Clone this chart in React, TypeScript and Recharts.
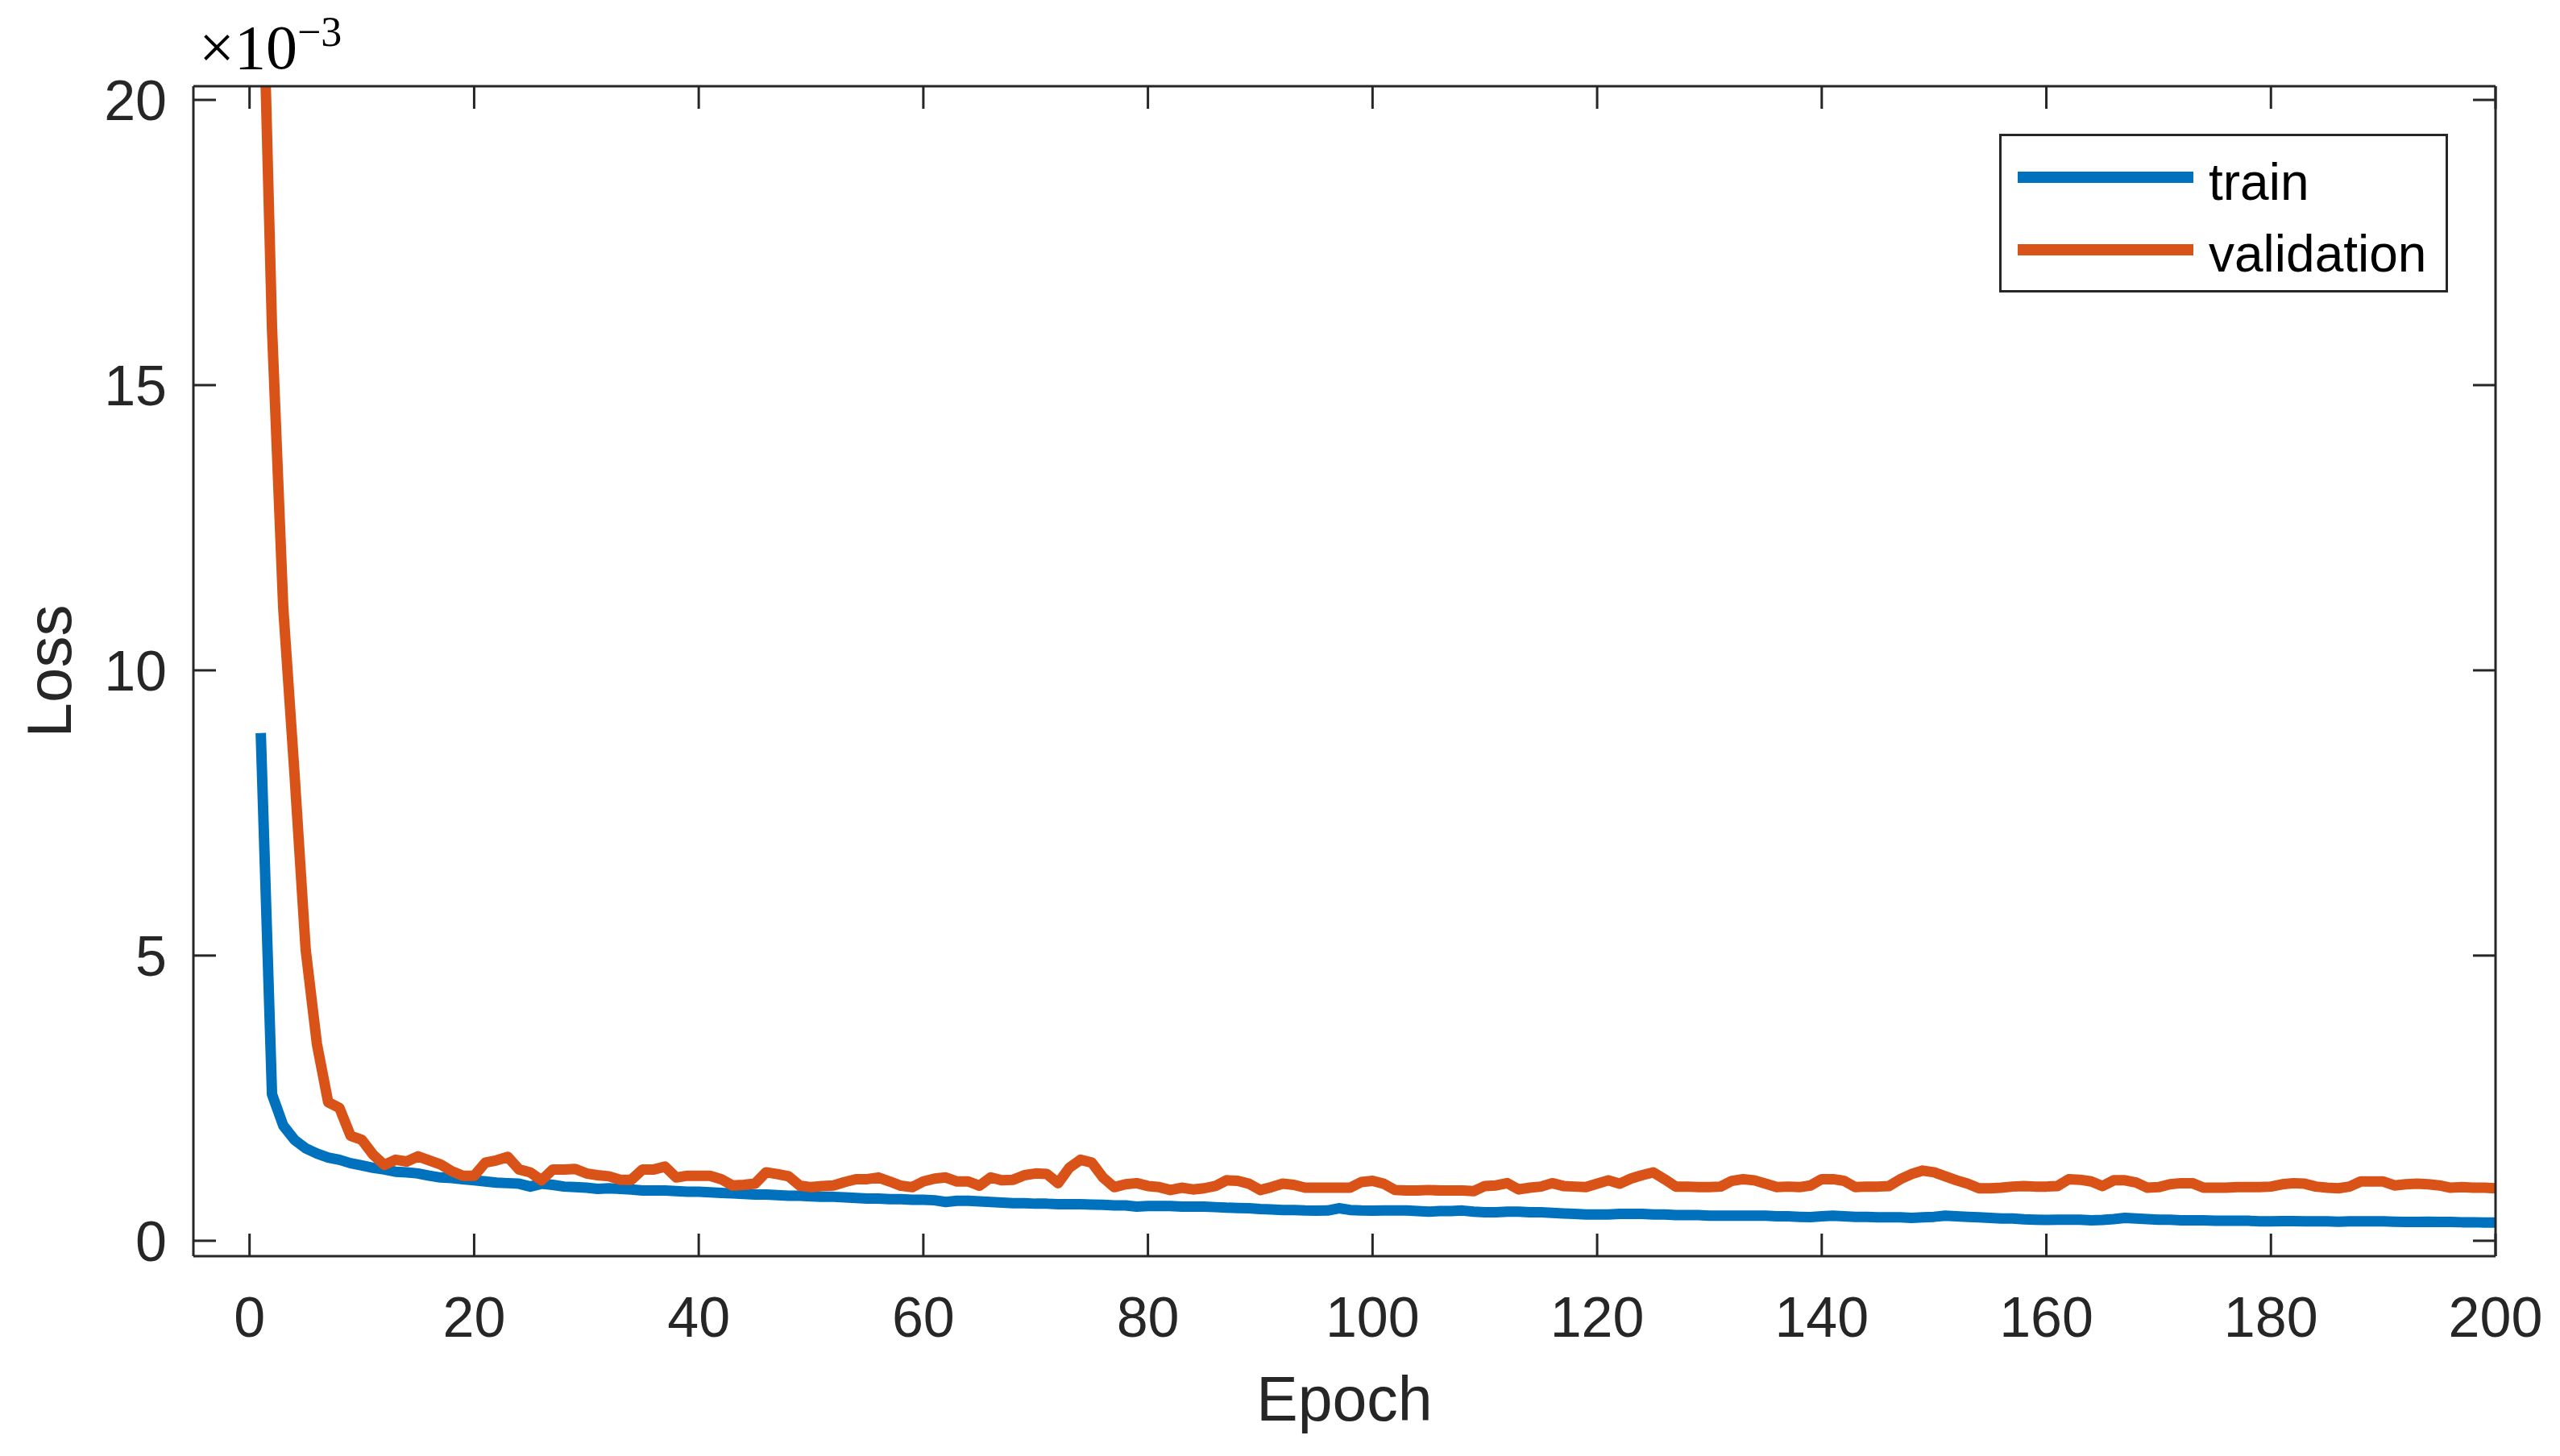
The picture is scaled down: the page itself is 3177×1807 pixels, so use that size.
import React from "react";
import { LineChart, Line, XAxis, YAxis, Legend } from "recharts";

// Loss values are in units of 1e-3 (the axis shows the "x10^-3" exponent)
const trainLoss = [
  8.9, 2.57, 2.02, 1.77, 1.62, 1.53, 1.46, 1.42, 1.36, 1.32,
  1.28, 1.25, 1.21, 1.2, 1.18, 1.14, 1.11, 1.1, 1.08, 1.06,
  1.04, 1.02, 1.01, 1.0, 0.95, 1.0, 0.98, 0.95, 0.94, 0.93,
  0.91, 0.92, 0.91, 0.9, 0.88, 0.88, 0.88, 0.87, 0.86, 0.86,
  0.85, 0.84, 0.83, 0.82, 0.81, 0.81, 0.8, 0.79, 0.79, 0.78,
  0.77, 0.77, 0.76, 0.75, 0.74, 0.74, 0.73, 0.73, 0.72, 0.72,
  0.71, 0.68, 0.7, 0.7, 0.69, 0.68, 0.67, 0.66, 0.66, 0.65,
  0.65, 0.64, 0.64, 0.64, 0.635, 0.63, 0.62, 0.62, 0.6, 0.61,
  0.61, 0.61, 0.6, 0.6, 0.6, 0.59, 0.58, 0.575, 0.57, 0.555,
  0.55, 0.54, 0.54, 0.53, 0.527, 0.53, 0.57, 0.54, 0.53, 0.527,
  0.53, 0.53, 0.53, 0.52, 0.51, 0.52, 0.52, 0.53, 0.51, 0.5,
  0.5, 0.51, 0.51, 0.5, 0.5, 0.49, 0.48, 0.47, 0.46, 0.46,
  0.46, 0.47, 0.47, 0.47, 0.46, 0.46, 0.45, 0.45, 0.45, 0.44,
  0.44, 0.44, 0.44, 0.44, 0.44, 0.43, 0.43, 0.42, 0.414, 0.43,
  0.44, 0.43, 0.42, 0.42, 0.41, 0.41, 0.41, 0.4, 0.41, 0.42,
  0.44, 0.43, 0.42, 0.41, 0.4, 0.39, 0.39, 0.376, 0.37, 0.367,
  0.37, 0.37, 0.37, 0.36, 0.367, 0.38, 0.4, 0.39, 0.38, 0.37,
  0.37, 0.36, 0.36, 0.36, 0.353, 0.35, 0.35, 0.35, 0.34, 0.34,
  0.345, 0.345, 0.34, 0.34, 0.34, 0.335, 0.34, 0.34, 0.34, 0.34,
  0.335, 0.33, 0.33, 0.335, 0.33, 0.33, 0.325, 0.325, 0.32, 0.32,
];

const validationLoss = [
  23.6, 16.0, 11.1, 8.2, 5.1, 3.45, 2.43, 2.33, 1.84, 1.77,
  1.51, 1.33, 1.42, 1.39, 1.48, 1.41, 1.34, 1.22, 1.14, 1.14,
  1.37, 1.41, 1.47, 1.25, 1.2, 1.06, 1.25, 1.25, 1.26, 1.18,
  1.15, 1.13, 1.07, 1.07, 1.25, 1.25, 1.3, 1.11, 1.14, 1.14,
  1.14, 1.08, 0.97, 0.98, 1.0, 1.2, 1.17, 1.13, 0.965, 0.94,
  0.96, 0.97, 1.03, 1.08, 1.08, 1.11, 1.04, 0.965, 0.94, 1.04,
  1.09, 1.11, 1.04, 1.04, 0.965, 1.11, 1.06, 1.07, 1.15, 1.18,
  1.17, 1.01, 1.28, 1.42, 1.37, 1.11, 0.94, 0.99, 1.01, 0.96,
  0.94, 0.89, 0.93, 0.9, 0.92, 0.96, 1.06, 1.05, 1.0, 0.89,
  0.94, 1.0, 0.98, 0.93, 0.93, 0.93, 0.93, 0.93, 1.03, 1.05,
  1.0, 0.89, 0.88, 0.88, 0.89, 0.88, 0.88, 0.88, 0.87, 0.96,
  0.97, 1.01, 0.9, 0.93, 0.95, 1.01, 0.96, 0.95, 0.94, 1.0,
  1.06, 1.0, 1.09, 1.15, 1.2, 1.08, 0.95, 0.95, 0.94, 0.94,
  0.95, 1.05, 1.08, 1.06, 1.0, 0.94, 0.95, 0.94, 0.97, 1.08,
  1.08, 1.05, 0.94, 0.95, 0.95, 0.96, 1.08, 1.17, 1.23, 1.2,
  1.13, 1.06, 1.0, 0.92, 0.92, 0.93, 0.95, 0.96, 0.95, 0.95,
  0.96, 1.08, 1.07, 1.04, 0.96, 1.06, 1.06, 1.02, 0.93, 0.94,
  0.99, 1.01, 1.01, 0.93, 0.93, 0.93, 0.94, 0.94, 0.94, 0.95,
  0.99, 1.01, 1.0, 0.95, 0.93, 0.92, 0.95, 1.04, 1.04, 1.04,
  0.97, 0.99, 1.0, 0.99, 0.97, 0.93, 0.94, 0.93, 0.93, 0.92,
];

const xTicks = [0, 20, 40, 60, 80, 100, 120, 140, 160, 180, 200];
const yTicks = [0, 5, 10, 15, 20];
const xDomain: [number, number] = [-5, 200];
const yDomain: [number, number] = [-0.27, 20.24];

const rows = trainLoss.map((t, i) => ({
  epoch: i + 1,
  train: t,
  validation: validationLoss[i],
}));

const AXIS = "#262626";
const SANS = "'Liberation Sans', Arial, Helvetica, sans-serif";

function LegendBox({ payload }: any) {
  const items = payload || [];
  return (
    <svg width={557} height={197} style={{ display: "block" }}>
      <rect x={1.5} y={1.5} width={554} height={194} fill="#fff" stroke={AXIS} strokeWidth={3} />
      {items.map((p: any, i: number) => (
        <g key={p.value}>
          <line x1={23} x2={241} y1={54 + i * 90} y2={54 + i * 90} stroke={p.color} strokeWidth={14} />
          <text x={260} y={82 + i * 89} fontSize={64} fill="#000" fontFamily={SANS}>
            {p.value}
          </text>
        </g>
      ))}
    </svg>
  );
}

function ExponentLabel(props: any) {
  const vb = props.viewBox || { x: 232, y: 49 };
  return (
    <text x={vb.x + 7} y={vb.y + 28} fontFamily="'Liberation Serif', 'DejaVu Serif', serif" fontSize={78} fill="#000">
      ×10
      <tspan dy={-28} fontSize={52}>−3</tspan>
    </text>
  );
}

function LossLabel(props: any) {
  const vb = props.viewBox || { x: 0, y: 99, width: 232, height: 1452 };
  const cx = vb.x + 80;
  const cy = vb.y + vb.height / 2;
  return (
    <text x={cx} y={cy} transform={`rotate(-90 ${cx} ${cy})`} textAnchor="middle" fontSize={78} fill={AXIS} fontFamily={SANS}>
      Loss
    </text>
  );
}

export default function App() {
  return (
    <div style={{ width: 3161, height: 1791, fontFamily: SANS, background: "#fff" }}>
      <LineChart
        width={3161}
        height={1791}
        data={rows}
        margin={{ top: 49, right: 22, bottom: 0, left: 0 }}
      >
        <XAxis
          dataKey="epoch"
          type="number"
          domain={xDomain}
          ticks={xTicks}
          allowDataOverflow
          height={240}
          stroke={AXIS}
          strokeWidth={3}
          tickSize={-28}
          tickMargin={78}
          tick={{ fontSize: 70, fill: AXIS }}
          label={{ value: "Epoch", position: "insideBottom", offset: 36, fontSize: 77, fill: AXIS }}
        />
        <XAxis
          xAxisId="top"
          orientation="top"
          dataKey="epoch"
          type="number"
          domain={xDomain}
          ticks={xTicks}
          allowDataOverflow
          height={50}
          stroke={AXIS}
          strokeWidth={3}
          tickSize={-28}
          tickFormatter={() => ""}
          label={{ content: ExponentLabel }}
        />
        <YAxis
          type="number"
          domain={yDomain}
          ticks={yTicks}
          allowDataOverflow
          width={232}
          stroke={AXIS}
          strokeWidth={3}
          tickSize={-28}
          tickMargin={61}
          tick={{ fontSize: 70, fill: AXIS }}
          label={{ content: LossLabel }}
        />
        <YAxis
          yAxisId="right"
          orientation="right"
          type="number"
          domain={yDomain}
          ticks={yTicks}
          allowDataOverflow
          width={50}
          stroke={AXIS}
          strokeWidth={3}
          tickSize={-28}
          tickFormatter={() => ""}
        />
        <Legend
          layout="vertical"
          align="center"
          verticalAlign="middle"
          content={LegendBox}
          wrapperStyle={{ left: 2473, top: 158, width: 557, height: 197 }}
        />
        <Line
          dataKey="train"
          name="train"
          type="linear"
          stroke="#0072BD"
          strokeWidth={13}
          strokeLinejoin="round"
          dot={false}
          isAnimationActive={false}
        />
        <Line
          dataKey="validation"
          name="validation"
          type="linear"
          stroke="#D95319"
          strokeWidth={13}
          strokeLinejoin="round"
          dot={false}
          isAnimationActive={false}
        />
      </LineChart>
    </div>
  );
}
